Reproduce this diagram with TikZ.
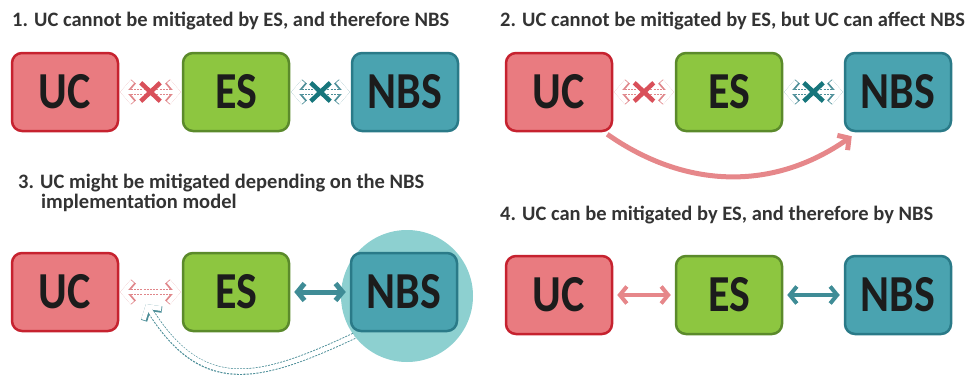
\documentclass[tikz,border=0pt]{standalone}
\usepackage{fontspec}
\setmainfont{Carlito}
\usepackage{xcolor}
\usepackage{graphicx}
\usepackage{tikz}
\usetikzlibrary{positioning,calc,arrows.meta,shapes.misc}

\definecolor{ucfill}{HTML}{E97B80}
\definecolor{ucdraw}{HTML}{C6222F}
\definecolor{esfill}{HTML}{8DC640}
\definecolor{esdraw}{HTML}{5B8A2B}
\definecolor{nbsfill}{HTML}{4AA3B0}
\definecolor{nbsdraw}{HTML}{2A7A88}
\definecolor{halofill}{HTML}{8DD0D0}
\definecolor{ghostpink}{HTML}{E0868A}
\definecolor{ghostteal}{HTML}{4C8E98}
\definecolor{xpink}{HTML}{D9505A}
\definecolor{xteal}{HTML}{17767C}
\definecolor{linkpink}{HTML}{E6878A}
\definecolor{linkteal}{HTML}{3F8C96}
\definecolor{labelgray}{HTML}{1C1C1C}
\definecolor{titlegray}{HTML}{333333}

\newcommand{\tall}[1]{\scalebox{1}[1.18]{#1}}

\begin{document}
\begin{tikzpicture}[
    x=1pt, y=1pt,
    box/.style={rectangle, rounded corners=10pt, line width=2.5pt, minimum width=106pt, minimum height=78pt, font=\fontsize{44}{44}\selectfont\bfseries, text=labelgray},
    ucbox/.style={box, fill=ucfill, draw=ucdraw},
    esbox/.style={box, fill=esfill, draw=esdraw},
    nbsbox/.style={box, fill=nbsfill, draw=nbsdraw},
    title/.style={anchor=base west, inner sep=0pt, align=left, font=\fontsize{20.5}{20}\selectfont\bfseries, text=titlegray},
    ghost/.style={line width=6.4pt, dash pattern=on 2pt off 1.2pt, postaction={draw=white, line width=4.6pt, solid}},
    ghosttip/.style={-{Straight Barb[length=9pt,width=21pt]}},
    ghostboth/.style={ghost, {Straight Barb[length=9pt,width=21pt]}-{Straight Barb[length=9pt,width=21pt]}, shorten >=1pt, shorten <=1pt},
    cross/.style={cross out, draw, line width=4.5pt, minimum width=15pt, minimum height=14pt, inner sep=0pt},
    link/.style={{Straight Barb[length=7pt,width=17pt]}-{Straight Barb[length=7pt,width=17pt]}, line width=4pt, shorten >=4pt, shorten <=4pt}
]
\useasboundingbox (0,0) rectangle (975,376);

% Case 1
\node[title] (t1) at (12,350) {1. UC cannot be mitigated by ES, and therefore NBS};
\node[ucbox] (uc1) at (65,284) {\tall{UC}};
\node[esbox] (es1) at (236,284) {\tall{ES}};
\node[nbsbox] (nbs1) at (405,284) {\tall{NBS}};
\draw[ghostboth, draw=ghostpink] (uc1) -- (es1);
\draw[ghostboth, draw=ghostteal] (es1) -- (nbs1);
\node[cross, draw=xpink] (x1) at ($(uc1.east)!0.5!(es1.west)$) {};
\node[cross, draw=xteal] (x2) at ($(es1.east)!0.5!(nbs1.west)$) {};

% Case 2
\node[title] (t2) at (500,350) {2. UC cannot be mitigated by ES, but UC can affect NBS};
\node[ucbox] (uc2) at (559,284) {\tall{UC}};
\node[esbox] (es2) at (729,284) {\tall{ES}};
\node[nbsbox] (nbs2) at (898,284) {\tall{NBS}};
\draw[ghostboth, draw=ghostpink] (uc2) -- (es2);
\draw[ghostboth, draw=ghostteal] (es2) -- (nbs2);
\node[cross, draw=xpink] (x3) at ($(uc2.east)!0.5!(es2.west)$) {};
\node[cross, draw=xteal] (x4) at ($(es2.east)!0.5!(nbs2.west)$) {};
\draw[linkpink, line width=5pt, -{Straight Barb[length=8pt,width=18pt]}] ([xshift=-6pt,yshift=-2pt]uc2.south east) to[out=-35, in=-145] ([xshift=8pt,yshift=-4pt]nbs2.south west);

% Case 3
\node[title] (t3) at (18,168) {3. UC might be mitigated depending on the NBS\\\hspace*{23pt}implementation model};
\node[circle, fill=halofill, minimum size=132pt, inner sep=0pt] (halo) at (407,80) {};
\node[ucbox] (uc3) at (65,84) {\tall{UC}};
\node[esbox] (es3) at (236,84) {\tall{ES}};
\node[nbsbox] (nbs3) at (404,84) {\tall{NBS}};
\draw[ghostboth, draw=ghostpink] (uc3) -- (es3);
\draw[link, draw=linkteal, line width=5pt] (es3) -- (nbs3);
\coordinate (back3) at (146,72);
\draw[ghost, ghosttip, draw=ghostteal] (halo.217) to[out=205, in=-58, looseness=1.3] (back3);

% Case 4
\node[title] (t4) at (500,156) {4. UC can be mitigated by ES, and therefore by NBS};
\node[ucbox] (uc4) at (559,81) {\tall{UC}};
\node[esbox] (es4) at (729,81) {\tall{ES}};
\node[nbsbox] (nbs4) at (898,81) {\tall{NBS}};
\draw[link, draw=linkpink] (uc4) -- (es4);
\draw[link, draw=linkteal] (es4) -- (nbs4);

\end{tikzpicture}
\end{document}
